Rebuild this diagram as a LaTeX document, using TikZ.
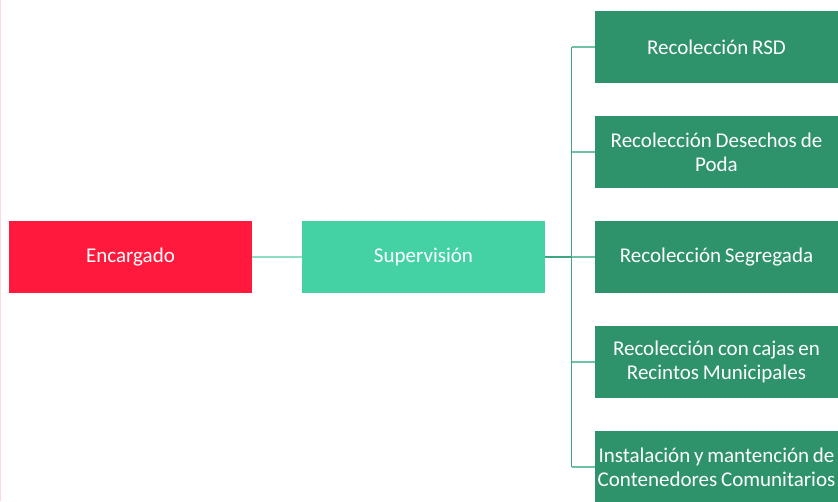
\documentclass[tikz,border=0pt]{standalone}
\usepackage{fontspec}
\setmainfont{Carlito}[WordSpace=0.8]
\definecolor{encred}{HTML}{FF1A3D}
\definecolor{supteal}{HTML}{44D2A5}
\definecolor{recgreen}{HTML}{2E936A}
\definecolor{linkteal}{HTML}{8FDDC3}
\definecolor{busgreen}{HTML}{3FA47F}
\definecolor{branchgreen}{HTML}{6FC2A3}
\definecolor{edgepink}{HTML}{FFD6E0}
\tikzset{
  box/.style={rectangle, minimum width=243pt, minimum height=72pt, inner sep=1pt,
    align=center, text=white,
    font=\fontsize{21}{24}\selectfont},
}
\begin{document}
\begin{tikzpicture}[x=1pt,y=-1pt]
        \useasboundingbox (0,0) rectangle (838,501);
        \clip (0,0) rectangle (838,501);
        \draw[edgepink, line width=1pt] (0.5,0) -- (0.5,501);
        \node[box, fill=encred]   (enc) at (130.5,257) {Encargado};
        \node[box, fill=supteal]  (sup) at (423.5,257) {Supervisión};
        \node[box, fill=recgreen] (r1)  at (716.5,47)  {Recolección RSD};
        \node[box, fill=recgreen] (r2)  at (716.5,152) {Recolección Desechos de\\Poda};
        \node[box, fill=recgreen] (r3)  at (716.5,257) {Recolección Segregada};
        \node[box, fill=recgreen] (r4)  at (716.5,362) {Recolección con cajas en\\Recintos Municipales};
        \node[box, fill=recgreen] (r5)  at (716.5,467) {Instalación y mantención de\\Contenedores Comunitarios};
        \coordinate (bus) at (571.5,257);
        \draw[linkteal, line width=1.5pt] (enc.east) -- (sup.west);
        \draw[busgreen, line width=1.5pt] (sup.east) -- (bus);
        \draw[busgreen, line width=1.5pt] (bus |- r1.west) -- (bus |- r5.west);
        \foreach \r in {r1,r2,r3,r4,r5}
            \draw[branchgreen, line width=1.5pt] (bus |- \r.west) -- (\r.west);
    \end{tikzpicture}
\end{document}
